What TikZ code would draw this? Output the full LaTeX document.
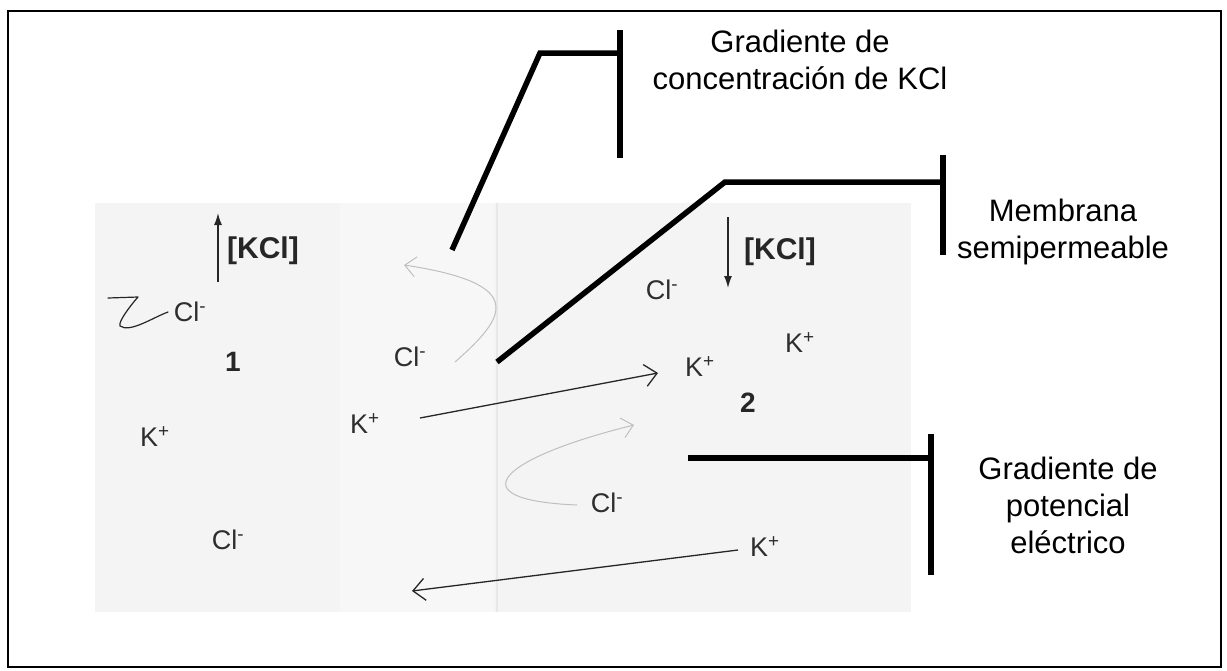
\documentclass[tikz,border=0pt]{standalone}
\usepackage{fontspec}
\setmainfont{Liberation Sans}
\usetikzlibrary{arrows.meta}
\begin{document}
\begin{tikzpicture}[x=1pt,y=-1pt,
  ion/.style={font=\fontsize{27}{30}\selectfont, inner sep=0pt, text=black!82},
  num/.style={font=\fontsize{28}{30}\selectfont\bfseries, inner sep=0pt, text=black!85},
  conc/.style={font=\fontsize{30}{32}\selectfont\bfseries, inner sep=0pt, text=black!85},
  callout/.style={line width=5.5pt},
  lbl/.style={font=\fontsize{31}{37}\selectfont, align=center, inner sep=0pt},
  move/.style={line width=1.3pt, draw=black!85, -{Straight Barb[length=12pt,width=22pt,line width=1.3pt]}},
  faint/.style={line width=1pt, draw=gray!50, -{Straight Barb[length=11pt,width=20pt,line width=1pt]}},
  vert/.style={line width=1.4pt, draw=black!85, -{Latex[length=12pt,width=8pt]}},
]
\useasboundingbox (0,0) rectangle (1227,670);
\draw[line width=2.5pt] (8,11) rectangle (1221,667);
\fill[gray!9] (95,203) rectangle (911,612);
\fill[gray!6] (340,203) rectangle (494,612);
\draw[gray!18, line width=2.5pt] (497,203) -- (497,612);

% ions
\node[ion] (cl1) at (190,312) {Cl\textsuperscript{-}};
\node[num] (n1) at (233,362) {1};
\node[ion] (k1) at (155,437) {K\textsuperscript{+}};
\node[ion] (cl2) at (228,540) {Cl\textsuperscript{-}};
\node[ion] (cl3) at (410,357) {Cl\textsuperscript{-}};
\node[ion] (k2) at (365,424) {K\textsuperscript{+}};
\node[ion] (cl4) at (662,290) {Cl\textsuperscript{-}};
\node[ion] (k3) at (700,367) {K\textsuperscript{+}};
\node[ion] (k4) at (800,343) {K\textsuperscript{+}};
\node[num] (n2) at (748,403) {2};
\node[ion] (cl5) at (607,503) {Cl\textsuperscript{-}};
\node[ion] (k5) at (765,547) {K\textsuperscript{+}};
\node[conc] (kcl1) at (263,251) {[KCl]};
\node[conc] (kcl2) at (780,252) {[KCl]};

% concentration arrows
\coordinate (ua0) at (218,282); \coordinate (ua1) at (218,213);
\draw[vert] (ua0) -- (ua1);
\coordinate (da0) at (728,217); \coordinate (da1) at (728,288);
\draw[vert] (da0) -- (da1);

% K+ movements
\coordinate (ka0) at (420,418); \coordinate (ka1) at (658,373);
\draw[move] (ka0) -- (ka1);
\coordinate (kb0) at (738,550); \coordinate (kb1) at (412,591);
\draw[move] (kb0) -- (kb1);

% Cl- faint returns
\coordinate (ca0) at (455,362); \coordinate (ca1) at (404,265);
\draw[faint] (ca0) .. controls (505,318) and (530,284) .. (ca1);
\coordinate (cb0) at (577,505); \coordinate (cb1) at (634,425);
\draw[faint] (cb0) .. controls (455,500) and (500,458) .. (cb1);

% squiggle by Cl- (left)
\coordinate (sq0) at (168,312); \coordinate (sq2) at (138,297); \coordinate (sq3) at (108,298);
\draw[line width=1.2pt, draw=black!85, line join=round, line cap=round]
  (sq0) .. controls (152,318) and (130,333) .. (120,326)
  .. controls (118,322) and (130,306) .. (sq2) -- (sq3);

% callouts
\coordinate (a0) at (452,250); \coordinate (a1) at (540,53); \coordinate (a2) at (620,53);
\coordinate (a3) at (620,30); \coordinate (a4) at (620,158);
\draw[callout] (a0) -- (a1) -- (a2);
\draw[callout] (a3) -- (a4);

\coordinate (b0) at (497,362); \coordinate (b1) at (725,182); \coordinate (b2) at (943,182);
\coordinate (b3) at (943,155); \coordinate (b4) at (943,255);
\draw[callout] (b0) -- (b1) -- (b2);
\draw[callout] (b3) -- (b4);

\coordinate (c0) at (688,458); \coordinate (c1) at (931,458);
\coordinate (c3) at (931,434); \coordinate (c4) at (931,575);
\draw[callout] (c0) -- (c1);
\draw[callout] (c3) -- (c4);

% labels
\node[lbl] (t1) at (800,60) {Gradiente de\\concentración de KCl};
\node[lbl] (t2) at (1063,232) {Membrana\\semipermeable};
\node[lbl] (t3) at (1068,505) {Gradiente de\\potencial\\eléctrico};
\end{tikzpicture}
\end{document}
